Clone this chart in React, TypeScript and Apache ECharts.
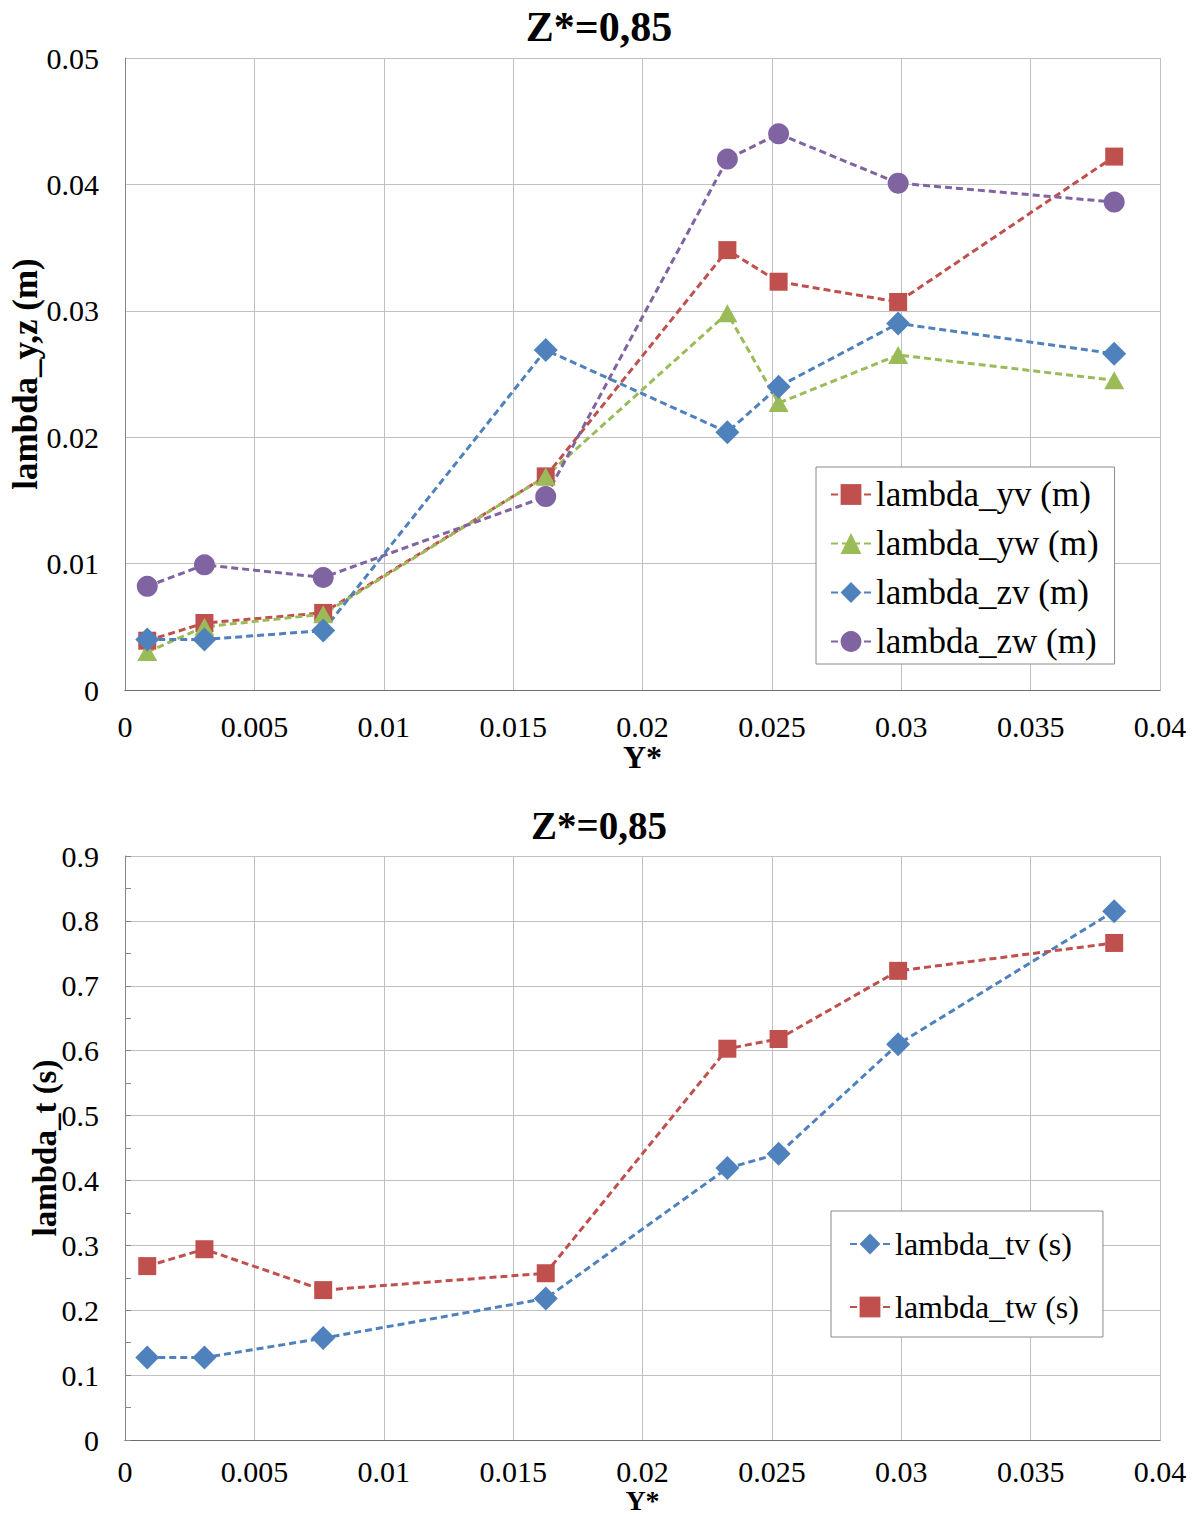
import React, { useEffect, useRef } from "react";
import * as echarts from "echarts";

const FONT = '"Liberation Serif", "Times New Roman", serif';

// Y* positions (shared by all series)
const yStar = [0.00086, 0.00307, 0.00766, 0.01626, 0.02328, 0.02526, 0.02988, 0.03823];

// Top chart series (m)
const lambdaYv = [0.0039, 0.0053, 0.0061, 0.0169, 0.0348, 0.0323, 0.0307, 0.0422];
const lambdaYw = [0.003, 0.005, 0.006, 0.0169, 0.0298, 0.0227, 0.0265, 0.0245];
const lambdaZv = [0.004, 0.004, 0.0047, 0.0269, 0.0204, 0.024, 0.029, 0.0266];
const lambdaZw = [0.0082, 0.0099, 0.0089, 0.0153, 0.042, 0.044, 0.0401, 0.0386];

// Bottom chart series (s)
const lambdaTv = [0.127, 0.127, 0.157, 0.218, 0.419, 0.441, 0.61, 0.815];
const lambdaTw = [0.268, 0.294, 0.231, 0.257, 0.603, 0.618, 0.723, 0.766];

const titleText = "Z*=0,85";
const xName = "Y*";
const yNameTop = "lambda_y,z (m)";
const yNameBottom = "lambda_t (s)";

const RED = "#C0504D";
const GREEN = "#9BBB59";
const BLUE = "#4F81BD";
const PURPLE = "#8064A2";

const pairs = (ys: number[]) => yStar.map((x, i) => [x, ys[i]]);

export default function App() {
  const ref = useRef<HTMLDivElement>(null);
  useEffect(() => {
    if (!ref.current) return;
    const chart = echarts.init(ref.current, undefined, { renderer: "svg" });

    const xAxisBase = (gridIndex: number, margin: number, nameGap: number, nameSize: number) => ({
      type: "value",
      gridIndex,
      min: 0,
      max: 0.04,
      interval: 0.005,
      name: xName,
      nameLocation: "middle",
      nameGap,
      nameMoveOverlap: false,
      nameTextStyle: { fontFamily: FONT, fontSize: nameSize, fontWeight: "bold", color: "#000" },
      axisLine: { show: true, onZero: false, lineStyle: { color: "#868686", width: 1 } },
      axisTick: { show: false },
      axisLabel: { fontFamily: FONT, fontSize: 30, color: "#000", margin },
      splitLine: { show: true, lineStyle: { color: "#c0c0c0", width: 1 } },
    });
    const topLine = (gridIndex: number) => ({
      type: "value",
      gridIndex,
      min: 0,
      max: 0.04,
      position: "top",
      axisLine: { show: true, lineStyle: { color: "#6e6e6e", width: 1 } },
      axisTick: { show: false },
      axisLabel: { show: false },
      splitLine: { show: false },
    });

    const lineSeries = (
      name: string,
      data: number[],
      color: string,
      symbol: string,
      symbolSize: any,
      idx: number
    ) => ({
      type: "line",
      name,
      xAxisIndex: idx,
      yAxisIndex: idx,
      data: pairs(data),
      symbol,
      symbolSize,
      showSymbol: true,
      itemStyle: { color },
      lineStyle: { color, width: 3, type: [7, 4] },
      emphasis: { disabled: true },
    });

    const legendBase = {
      orient: "vertical",
      backgroundColor: "#fff",
      borderColor: "#8a8a8a",
      borderWidth: 1,
      itemWidth: 40,
      itemHeight: 26,
      itemGap: 14,
      itemStyle: { borderWidth: 0 },
    };

    chart.setOption({
      animation: false,
      backgroundColor: "#fff",
      title: [
        {
          text: titleText,
          left: "center",
          top: 1,
          textStyle: { fontFamily: FONT, fontSize: 42, fontWeight: "bold", color: "#000" },
        },
        {
          text: titleText,
          left: "center",
          top: 801,
          textStyle: { fontFamily: FONT, fontSize: 39, fontWeight: "bold", color: "#000" },
        },
      ],
      grid: [
        { left: 125, top: 58, width: 1035, height: 632, outerBoundsMode: "none", containLabel: false },
        { left: 125, top: 856, width: 1035, height: 584, outerBoundsMode: "none", containLabel: false },
      ],
      xAxis: [xAxisBase(0, 21, 51, 32), xAxisBase(1, 16, 46, 28), topLine(0), topLine(1)],
      yAxis: [
        {
          type: "value",
          gridIndex: 0,
          min: 0,
          max: 0.05,
          interval: 0.01,
          name: yNameTop,
          nameLocation: "middle",
          nameGap: 82,
          nameMoveOverlap: false,
          nameTextStyle: { fontFamily: FONT, fontSize: 35, fontWeight: "bold", color: "#000" },
          axisLine: { show: true, lineStyle: { color: "#868686", width: 1 } },
          axisTick: { show: false },
          axisLabel: { fontFamily: FONT, fontSize: 30, color: "#000", margin: 26 },
          splitLine: { show: true, lineStyle: { color: "#c0c0c0", width: 1 } },
        },
        {
          type: "value",
          gridIndex: 1,
          min: 0,
          max: 0.9,
          interval: 0.1,
          name: yNameBottom,
          nameLocation: "middle",
          nameGap: 64,
          nameMoveOverlap: false,
          nameTextStyle: { fontFamily: FONT, fontSize: 33, fontWeight: "bold", color: "#000" },
          axisLine: { show: true, lineStyle: { color: "#868686", width: 1 } },
          axisTick: { show: true, inside: true, length: 6, lineStyle: { color: "#868686" } },
          minorTick: { show: true, splitNumber: 2, length: 6, lineStyle: { color: "#868686" } },
          axisLabel: { fontFamily: FONT, fontSize: 30, color: "#000", margin: 26 },
          splitLine: { show: true, lineStyle: { color: "#c0c0c0", width: 1 } },
        },
      ],
      legend: [
        {
          ...legendBase,
          left: 816,
          top: 467,
          padding: [10, 16, 5, 14],
          textStyle: { fontFamily: FONT, fontSize: 35, color: "#000", lineHeight: 34 },
          data: ["lambda_yv (m)", "lambda_yw (m)", "lambda_zv (m)", "lambda_zw (m)"],
        },
        {
          ...legendBase,
          left: 831,
          top: 1211,
          itemGap: 29,
          padding: [16, 24, 13, 18],
          textStyle: { fontFamily: FONT, fontSize: 32, color: "#000", lineHeight: 34 },
          data: ["lambda_tv (s)", "lambda_tw (s)"],
        },
      ],
      series: [
        lineSeries("lambda_yv (m)", lambdaYv, RED, "rect", 18, 0),
        lineSeries("lambda_yw (m)", lambdaYw, GREEN, "triangle", [20, 18], 0),
        lineSeries("lambda_zv (m)", lambdaZv, BLUE, "diamond", 24, 0),
        lineSeries("lambda_zw (m)", lambdaZw, PURPLE, "circle", 21, 0),
        lineSeries("lambda_tv (s)", lambdaTv, BLUE, "diamond", 24, 1),
        lineSeries("lambda_tw (s)", lambdaTw, RED, "rect", 18, 1),
      ],
    });
    return () => chart.dispose();
  }, []);
  return (
    <div
      ref={ref}
      style={{ position: "absolute", left: 0, top: 0, width: 1198, height: 1515, background: "#fff" }}
    />
  );
}
